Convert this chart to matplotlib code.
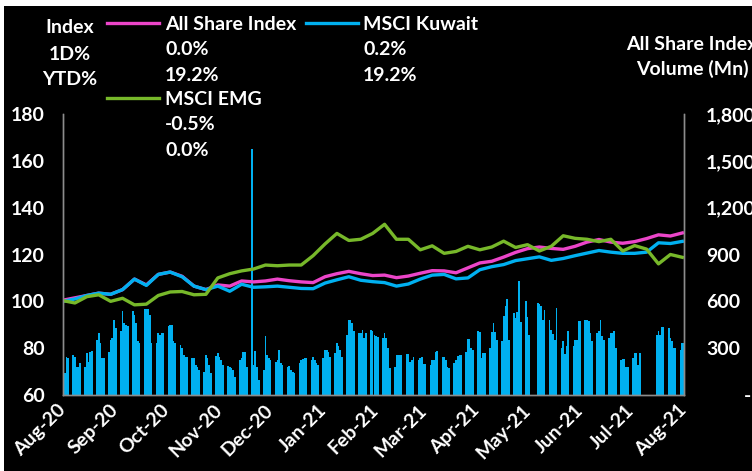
import numpy as np
import pandas as pd
import matplotlib
matplotlib.use('Agg')
import matplotlib.pyplot as plt
from matplotlib.lines import Line2D
from matplotlib.patches import Rectangle
from matplotlib.ticker import FuncFormatter

plt.rcParams['font.family'] = ['Lato', 'DejaVu Sans']
plt.rcParams['font.weight'] = 'bold'

# weekly index levels (rebased to 100)
idx_start = '2020-08-10'
all_share = [100.5, 101.5, 102.5, 103.5, 103.0, 105.0, 109.5, 107.0, 111.5, 112.5,
             110.7, 106.5, 105.0, 107.0, 106.5, 108.7, 108.3, 108.7, 109.5, 108.8,
             108.3, 108.0, 110.5, 111.8, 112.8, 111.8, 111.0, 111.2, 110.1, 110.8,
             112.0, 113.1, 113.0, 112.2, 114.3, 116.4, 117.1, 118.9, 120.9, 122.5,
             123.2, 122.6, 122.2, 123.5, 125.3, 126.4, 125.3, 124.8, 125.5, 126.8,
             128.4, 127.9, 129.2]
msci_kuwait = [100.0, 101.0, 102.5, 103.5, 103.0, 105.0, 109.5, 106.8, 111.5, 112.5,
               110.5, 106.5, 105.0, 106.5, 104.3, 107.3, 106.0, 106.2, 106.5, 106.0,
               105.5, 105.4, 107.8, 109.2, 110.5, 109.0, 108.4, 108.0, 106.5, 107.4,
               109.5, 111.2, 111.5, 109.6, 110.0, 113.5, 114.8, 115.7, 117.4, 118.2,
               119.0, 117.5, 118.3, 119.5, 120.6, 121.7, 121.0, 120.5, 120.5, 121.0,
               125.0, 124.7, 125.6]
msci_emg = [100.3, 99.3, 102.0, 102.8, 100.0, 101.3, 98.5, 98.8, 102.5, 104.0,
            104.2, 102.8, 103.0, 110.0, 111.8, 113.0, 113.8, 115.5, 115.2, 115.5,
            115.5, 119.5, 124.5, 129.0, 126.0, 126.5, 129.0, 132.9, 126.5, 126.5,
            122.0, 123.7, 120.5, 121.3, 123.5, 122.0, 123.2, 125.7, 123.0, 124.2,
            121.5, 123.5, 128.0, 126.9, 126.5, 125.5, 126.5, 121.5, 123.8, 122.3,
            116.0, 120.0, 118.8]

# daily traded volume (Mn), one list per trading week (Sun-Thu)
vol_weeks = [
    [215, 140, 245, 240],
    [257, 242, 182, 182, 204], [182, 270, 214, 278, 285], [350, 395, 330, 240, 236],
    [278, 354, 364, 482, 429], [408, 536, 461, 450, 440], [536, 514, 461, 343, 332],
    [551, 551, 551, 514, 332], [332, 396, 386, 396, 400], [440, 450, 450, 343, 332],
    [322, 300, 257, 242, 242], [236, 236, 193, 182, 161], [150, 257, 236, 193, 139],
    [250, 270, 245, 225, 195], [186, 182, 171, 161, 118], [225, 236, 278, 278, 182],
    [1575, 193, 280, 180, 96], [161, 375, 257, 240, 225], [214, 225, 289, 204, 193],
    [182, 186, 161, 150, 139], [204, 225, 229, 236, 236], [225, 242, 225, 204, 193],
    [236, 289, 289, 278, 242], [268, 336, 314, 289, 246], [386, 478, 478, 461, 407],
    [396, 396, 418, 364, 396], [418, 410, 386, 375, 370], [364, 396, 364, 300, 171],
    [182, 257, 257, 257, 257], [264, 264, 214, 225, 242], [225, 236, 246, 197, 197],
    [193, 221, 225, 278, 285], [246, 242, 225, 182, 171], [204, 225, 250, 257, 257],
    [278, 359, 359, 300, 289], [413, 405, 236, 268, 268], [300, 405, 461, 405, 354],
    [343, 503, 568, 615, 354], [525, 493, 529, 728, 470], [600, 500, 386],
    [590, 585, 570, 478, 546], [482, 418, 390, 355, 555], [300, 348, 260, 314, 411],
    [314, 354, 354, 471, 471], [482, 478, 471, 396, 343], [396, 407, 478, 375, 354],
    [364, 396, 396, 407, 300], [225, 229, 229, 182, 182], [236, 268, 268, 193, 271],
    [386, 413, 386, 434, 434], [429, 364, 343, 300, 300], [289, 336, 330],
]
holidays = ['2021-05-12', '2021-05-13', '2021-07-18', '2021-07-19',
            '2021-07-20', '2021-07-21', '2021-07-22']
first_day, last_day = '2020-08-10', '2021-08-10'

legend_names = ['All Share Index', 'MSCI Kuwait', 'MSCI EMG']
legend_1d = ['0.0%', '0.2%', '-0.5%']
legend_ytd = ['19.2%', '19.2%', '0.0%']

pink, blue, green = '#EC45C9', '#00B0F0', '#77B82A'

volume = [v for wk in vol_weeks for v in wk]
trade_days = pd.bdate_range(first_day, last_day, freq='C',
                            weekmask='Sun Mon Tue Wed Thu', holidays=holidays)
trade_days = trade_days[:len(volume)]
idx_dates = pd.date_range(idx_start, periods=len(all_share), freq='7D')

W, H = 752, 471
FS = 14
fig = plt.figure(figsize=(W / 100, H / 100), dpi=100, facecolor='white')
fig.add_artist(Rectangle((4 / W, 0), 1, 1 - 6 / H, transform=fig.transFigure,
                         facecolor='black', edgecolor='none', zorder=-10))

ax = fig.add_axes([63 / W, 1 - 395 / H, (684 - 63) / W, (395 - 114) / H])
ax2 = ax.twinx()
ax.set_zorder(2)
ax2.set_zorder(1)
ax.patch.set_visible(False)
ax2.patch.set_visible(False)

ax2.bar(trade_days, volume, width=1.0, color=blue, linewidth=0)
ax.plot(idx_dates, all_share, color=pink, lw=2.4, solid_joinstyle='round')
ax.plot(idx_dates, msci_kuwait, color=blue, lw=2.4, solid_joinstyle='round')
ax.plot(idx_dates, msci_emg, color=green, lw=2.4, solid_joinstyle='round')

ax.set_ylim(60, 180)
ax.set_yticks(np.arange(60, 181, 20))
ax2.set_ylim(0, 1800)
ax2.set_yticks(np.arange(0, 1801, 300))
ax2.yaxis.set_major_formatter(FuncFormatter(
    lambda v, p: '        -' if v == 0 else f'{v:,.0f}'))

ax.set_xlim(pd.Timestamp(first_day), pd.Timestamp(last_day))
month_ticks = pd.date_range(first_day, last_day, freq=pd.DateOffset(months=1))
ax.set_xticks(month_ticks)
ax.set_xticklabels([d.strftime('%b-%y') for d in month_ticks], rotation=45,
                   ha='right', va='center', rotation_mode='anchor')

ax.tick_params(axis='y', length=0, labelsize=FS, labelcolor='white', pad=13)
ax.tick_params(axis='x', length=0, labelsize=FS, labelcolor='white', pad=9)
ax2.tick_params(axis='y', length=0, labelsize=FS, labelcolor='white', pad=16)
for lab in ax2.get_yticklabels():
    lab.set_horizontalalignment('left')

for a in (ax, ax2):
    a.spines['top'].set_visible(False)
    for s in ('left', 'right', 'bottom'):
        a.spines[s].set_color('#8C8C8C')
        a.spines[s].set_linewidth(1)

# legend block
def ftext(x, y, s, **kw):
    fig.text(x / W, 1 - y / H, s, color='white', fontsize=FS, fontweight='bold', **kw)

for y, s in zip([33, 60, 85], ['Index', '1D%', 'YTD%']):
    ftext(70, y, s, ha='center', va='baseline')

legend_pos = [(107, 23, 165), (306, 23, 363), (107, 98, 165)]
for (lx, ly, tx), c, name, d1, ytd in zip(legend_pos, [pink, blue, green],
                                          legend_names, legend_1d, legend_ytd):
    fig.add_artist(Line2D([lx / W, (lx + 52) / W], [1 - ly / H] * 2, color=c, lw=2.4,
                          transform=fig.transFigure))
    ftext(tx, ly + 7, name, ha='left', va='baseline')
    ftext(tx, ly + 32, d1, ha='left', va='baseline')
    ftext(tx, ly + 58, ytd, ha='left', va='baseline')

ftext(692, 50, 'All Share Index', ha='center', va='baseline')
ftext(692, 75, 'Volume (Mn)', ha='center', va='baseline')

fig.savefig('out.png', dpi=100, facecolor=fig.get_facecolor())
